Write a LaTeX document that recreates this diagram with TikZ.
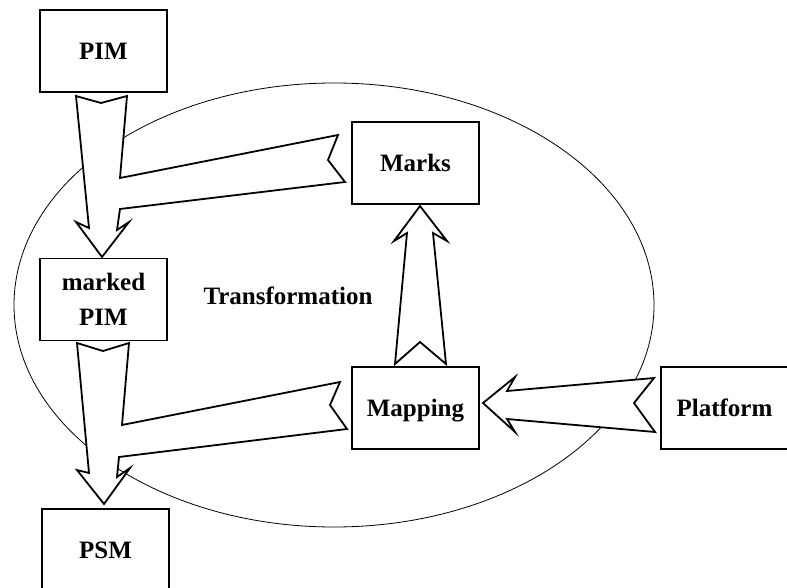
\documentclass[tikz,border=0pt]{standalone}
\usepackage{fontspec}
\setmainfont{Liberation Serif}
\begin{document}
\begin{tikzpicture}[x=1pt,y=-1pt,
  boxbase/.style={draw, line width=1.2pt, fill=white, minimum width=127pt, minimum height=82pt, inner sep=0pt,
    font=\fontsize{25}{35}\selectfont\bfseries},
  boxtxt/.style={boxbase, text height=18pt, text depth=1pt},
  fatarrow/.style={draw, line width=1.8pt, fill=white, line join=miter}]
\useasboundingbox (0,0) rectangle (787,588);
\clip (0,0) rectangle (787,588);
% transformation ellipse
\draw[line width=0.8pt] (334,305) ellipse [x radius=320pt, y radius=222pt];
\node[font=\fontsize{25}{30}\selectfont\bfseries, anchor=base] (trans) at (288,304) {Transformation};
% PIM -> marked PIM, joined by Marks arrow
\draw[fatarrow] (76,96) -- (101,103) -- (127,96) -- (120,178) -- (338,135) -- (328,160) -- (345,182)
  -- (120,209) -- (117,230) -- (129,222) -- (102,257) -- (76,222) -- (89,228) -- cycle;
% marked PIM -> PSM, joined by Mapping arrow
\draw[fatarrow] (77,343) -- (103,351) -- (129,343) -- (122,425) -- (340,382) -- (330,405) -- (347,429)
  -- (119,457) -- (117,477) -- (130,468) -- (104,504) -- (77,470) -- (89,473) -- cycle;
% Mapping -> Marks
\draw[fatarrow] (395,364) -- (420,342) -- (446,364) -- (433,233) -- (447,241) -- (420,206)
  -- (394,241) -- (407,233) -- cycle;
% Platform -> Mapping
\draw[fatarrow] (654,378) -- (634,403) -- (655,432) -- (507,419) -- (515,432) -- (483,403)
  -- (515,377) -- (507,391) -- cycle;
% boxes
\node[boxtxt] (pim) at (103.5,51) {PIM};
\node[boxbase, align=center] (mpim) at (103.5,299.5) {marked\\PIM};
\node[boxtxt] (psm) at (105.5,550) {PSM};
\node[boxtxt] (marks) at (415.5,163) {Marks};
\node[boxtxt] (mapping) at (415.5,408) {Mapping};
\node[boxtxt, minimum width=132pt] (platform) at (727,408) {\hspace*{-5pt}Platform};
\end{tikzpicture}
\end{document}
